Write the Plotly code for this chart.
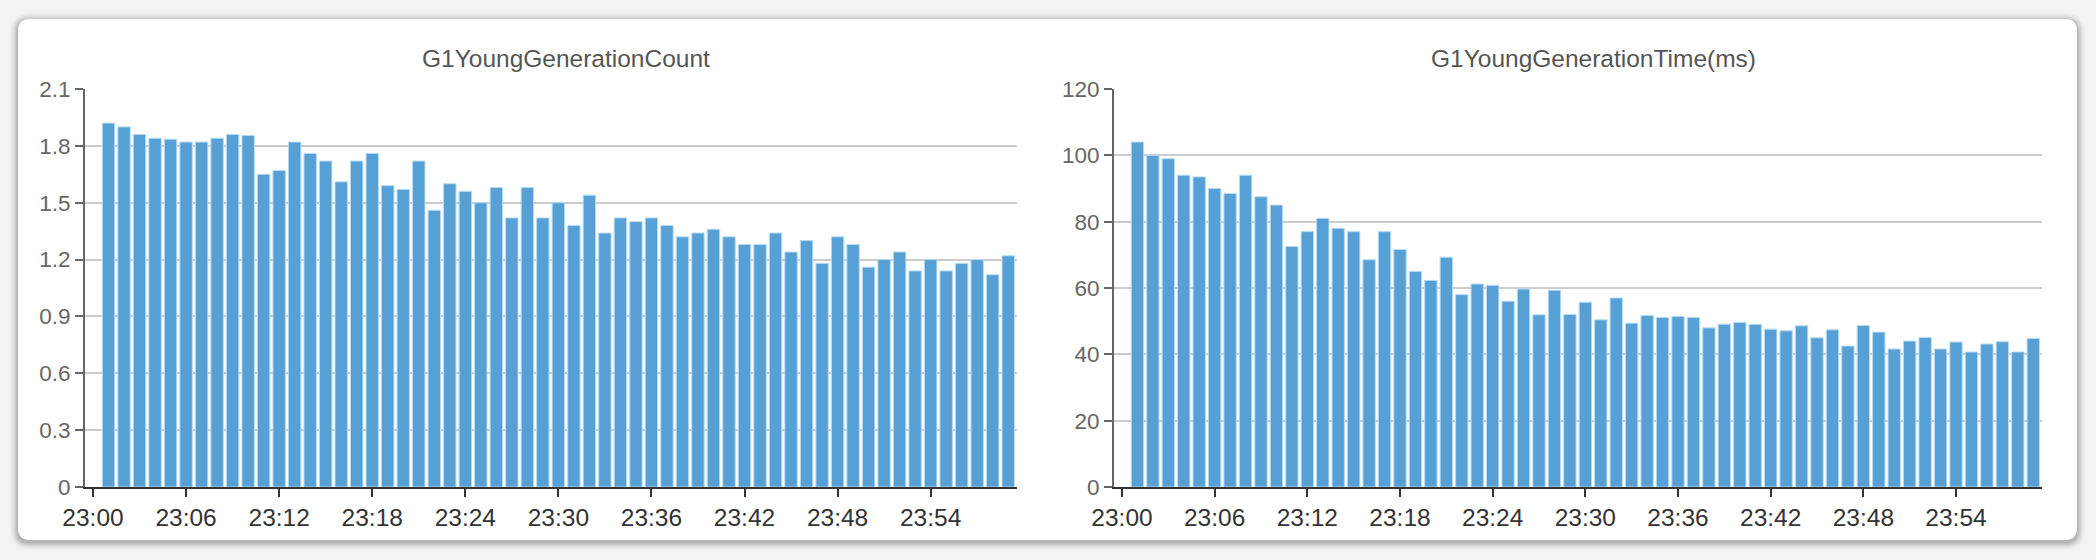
import plotly.graph_objects as go

# ---------------- data ----------------
times = ["23:01", "23:02", "23:03", "23:04", "23:05", "23:06", "23:07", "23:08", "23:09", "23:10",
         "23:11", "23:12", "23:13", "23:14", "23:15", "23:16", "23:17", "23:18", "23:19", "23:20",
         "23:21", "23:22", "23:23", "23:24", "23:25", "23:26", "23:27", "23:28", "23:29", "23:30",
         "23:31", "23:32", "23:33", "23:34", "23:35", "23:36", "23:37", "23:38", "23:39", "23:40",
         "23:41", "23:42", "23:43", "23:44", "23:45", "23:46", "23:47", "23:48", "23:49", "23:50",
         "23:51", "23:52", "23:53", "23:54", "23:55", "23:56", "23:57", "23:58", "23:59"]

young_gen_count = [1.92, 1.90, 1.86, 1.84, 1.835, 1.82, 1.82, 1.84, 1.86, 1.855,
                   1.65, 1.67, 1.82, 1.76, 1.72, 1.61, 1.72, 1.76, 1.59, 1.57,
                   1.72, 1.46, 1.60, 1.56, 1.50, 1.58, 1.42, 1.58, 1.42, 1.50,
                   1.38, 1.54, 1.34, 1.42, 1.40, 1.42, 1.38, 1.32, 1.34, 1.36,
                   1.32, 1.28, 1.28, 1.34, 1.24, 1.30, 1.18, 1.32, 1.28, 1.16,
                   1.20, 1.24, 1.14, 1.20, 1.14, 1.18, 1.20, 1.12, 1.22]

young_gen_time_ms = [104, 100, 99, 94, 93.5, 90, 88.5, 94, 87.5, 85,
                     72.5, 77, 81, 78, 77, 68.5, 77, 71.6, 65, 62.3,
                     69.3, 58, 61.2, 60.8, 56, 59.7, 51.9, 59.3, 52, 55.7,
                     50.4, 57, 49.4, 51.7, 51.1, 51.4, 51.1, 48, 49.1, 49.6,
                     49, 47.6, 47.1, 48.6, 45, 47.4, 42.5, 48.7, 46.7, 41.6,
                     44, 45.1, 41.6, 43.7, 40.7, 43.1, 43.8, 40.7, 44.8]

x_tick_labels = ["23:00", "23:06", "23:12", "23:18", "23:24", "23:30", "23:36", "23:42", "23:48", "23:54"]
count_ticks = [0, 0.3, 0.6, 0.9, 1.2, 1.5, 1.8, 2.1]
count_tick_text = ["0", "0.3", "0.6", "0.9", "1.2", "1.5", "1.8", "2.1"]
time_ticks = [0, 20, 40, 60, 80, 100, 120]
time_tick_text = ["0", "20", "40", "60", "80", "100", "120"]

titles = ["G1YoungGenerationCount", "G1YoungGenerationTime(ms)"]

DAY = "2024-01-01 "
x_dates = [DAY + t + ":00" for t in times]
tick_dates = [DAY + t + ":00" for t in x_tick_labels]
x_range = [DAY + "22:59:29", DAY + "23:59:34"]

# ---------------- geometry (pixels) ----------------
W, H = 2096, 560
def px(x):
    return x / W
def py(y):
    return 1 - y / H

BAR = "#56a0d6"
BAR_EDGE = "#b7daf3"

fig = go.Figure()
fig.add_trace(go.Bar(x=x_dates, y=young_gen_count, xaxis="x", yaxis="y",
                     marker=dict(color=BAR, line=dict(color=BAR_EDGE, width=1)),
                     showlegend=False, hoverinfo="x+y"))
fig.add_trace(go.Bar(x=x_dates, y=young_gen_time_ms, xaxis="x2", yaxis="y2",
                     marker=dict(color=BAR, line=dict(color=BAR_EDGE, width=1)),
                     showlegend=False, hoverinfo="x+y"))

plot_top, plot_bottom = 89, 487
left_dom = [px(85), px(1017)]
right_dom = [px(1114), px(2042)]
ydom = [py(plot_bottom), py(plot_top)]

xcommon = dict(type="date", range=x_range, tickmode="array", tickvals=tick_dates,
               ticktext=x_tick_labels, ticks="outside", ticklen=8, tickwidth=2,
               tickcolor="#333333", showline=True, linecolor="#333333", linewidth=2,
               showgrid=False, zeroline=False, automargin=False,
               tickfont=dict(family="Liberation Sans, Arial, sans-serif", size=24.5, color="#333333"))
ycommon = dict(ticks="outside", ticklen=8, tickwidth=2, tickcolor="#666666",
               showline=True, linecolor="#666666", linewidth=2, automargin=False,
               showgrid=True, gridcolor="#cccccc", gridwidth=1.5, zeroline=False,
               tickfont=dict(family="Liberation Sans, Arial, sans-serif", size=22.5, color="#666666"))

layout = dict(
    width=W, height=H,
    margin=dict(l=0, r=0, t=0, b=0, pad=0, autoexpand=False),
    paper_bgcolor="#f3f3f3",
    plot_bgcolor="rgba(0,0,0,0)",
    bargap=0.2,
    xaxis=dict(domain=left_dom, anchor="y", **xcommon),
    yaxis=dict(domain=ydom, anchor="x", range=[0, 2.1], tickmode="array",
               tickvals=count_ticks, ticktext=count_tick_text, **ycommon),
    xaxis2=dict(domain=right_dom, anchor="y2", **xcommon),
    yaxis2=dict(domain=ydom, anchor="x2", range=[0, 120], tickmode="array",
                tickvals=time_ticks, ticktext=time_tick_text, **ycommon),
)
fig.update_layout(**layout)

# card with rounded corners + soft shadow
def rounded_path(x0, y0, x1, y1, r):
    rx, ry = r / W, r / H
    X0, X1 = px(x0), px(x1)
    Yt, Yb = py(y0), py(y1)
    return (f"M {X0+rx},{Yt} L {X1-rx},{Yt} Q {X1},{Yt} {X1},{Yt-ry} "
            f"L {X1},{Yb+ry} Q {X1},{Yb} {X1-rx},{Yb} L {X0+rx},{Yb} "
            f"Q {X0},{Yb} {X0},{Yb+ry} L {X0},{Yt-ry} Q {X0},{Yt} {X0+rx},{Yt} Z")

shapes = []
for i, op in zip(range(8, 0, -1), [0.015, 0.02, 0.025, 0.03, 0.035, 0.04, 0.05, 0.06]):
    shapes.append(dict(type="path", xref="paper", yref="paper", layer="below",
                       path=rounded_path(18 - i, 19 - i + 2, 2077 + i, 540 + i + 2, 12 + i),
                       fillcolor=f"rgba(0,0,0,{op})", line=dict(width=0)))
shapes.append(dict(type="path", xref="paper", yref="paper", layer="below",
                   path=rounded_path(18, 19, 2077, 540, 12),
                   fillcolor="#ffffff", line=dict(width=0)))
fig.update_layout(shapes=shapes)

# titles
title_font = dict(family="Liberation Sans, Arial, sans-serif", size=24.5, color="#555555")
fig.add_annotation(text=titles[0], xref="paper", yref="paper",
                   x=px((85 + 1017) / 2 + 15), y=py(59), xanchor="center", yanchor="middle",
                   showarrow=False, font=title_font)
fig.add_annotation(text=titles[1], xref="paper", yref="paper",
                   x=px((1114 + 2042) / 2 + 15), y=py(59), xanchor="center", yanchor="middle",
                   showarrow=False, font=title_font)

fig.write_html("out.html", config={"displayModeBar": False},
               post_script="document.body.style.margin='0';document.body.style.background='#f3f3f3';document.body.style.overflow='hidden';")
